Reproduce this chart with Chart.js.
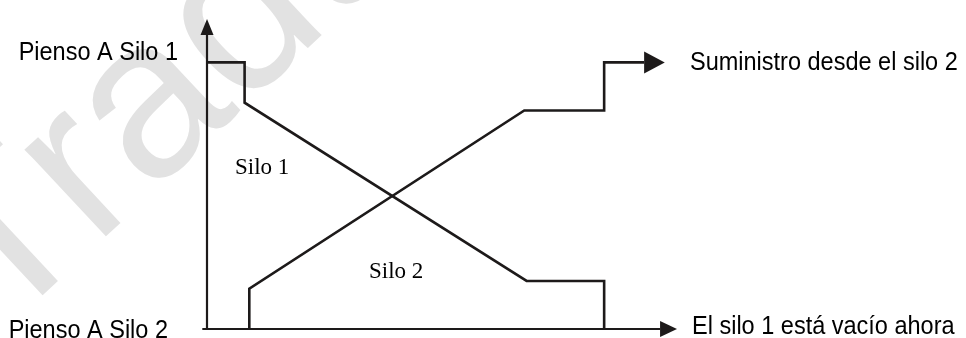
<!DOCTYPE html>
<html>
<head>
<meta charset="utf-8">
<script src="https://cdn.jsdelivr.net/npm/chart.js@4.4.1/dist/chart.umd.min.js"></script>
<style>
  html, body { margin: 0; padding: 0; background: #fff; }
</style>
</head>
<body>
<canvas id="grafico" width="966" height="338"></canvas>
<script>
// Valores (tiempo en x, nivel en y, escala 0-100)
const tiempoSilo1 = [0, 8, 8, 68, 84.5, 84.5];
const nivelSilo1 = [86, 86, 73, 15.5, 15.5, 0];

const tiempoSilo2 = [9, 9, 67.5, 84.5, 84.5, 93];
const nivelSilo2 = [0, 13, 70.5, 70.5, 86, 86];

// Ejes con flecha (la punta se dibuja aparte)
const ejeX = [-1, 96.4];
const ejeY = [0, 94.8];

// Textos
const textoSilo1 = 'Pienso A Silo 1';
const textoSilo2 = 'Pienso A Silo 2';
const textoSuministro = 'Suministro desde el silo 2';
const textoVacio = 'El silo 1 está vacío ahora';
const textoZona1 = 'Silo 1';
const textoZona2 = 'Silo 2';
const textoMarca = 'Traducido';

const colorLinea = '#1d1a1a';

const toPoints = (xs, ys) => xs.map((x, i) => ({ x: x, y: ys[i] }));

// Flechas: [x base, y base, x punta, y punta, medio ancho]
const flechas = [
  [0, 94.8, 0, 100, 6.5],
  [96.4, 0, 100, 0, 8],
  [93, 86, 97.4, 86, 11]
];

// texto algo estrechado, como en la figura original
const textoEstrecho = (ctx, txt, x, y, align) => {
  ctx.save();
  ctx.translate(x, y);
  ctx.scale(0.94, 1);
  ctx.textAlign = align;
  ctx.fillText(txt, 0, 0);
  ctx.restore();
};

const dibujoExtra = {
  id: 'dibujoExtra',
  beforeDatasetsDraw(chart) {
    const ctx = chart.ctx;
    // marca de agua
    ctx.save();
    ctx.translate(0, 335);
    ctx.rotate(-43 * Math.PI / 180);
    ctx.fillStyle = '#e2e2e2';
    ctx.font = '225px "Liberation Sans", Arial, sans-serif';
    ctx.textBaseline = 'alphabetic';
    ctx.fillText(textoMarca, 0, 0);
    ctx.restore();
  },
  afterDatasetsDraw(chart) {
    const ctx = chart.ctx;
    const sx = chart.scales.x;
    const sy = chart.scales.y;
    ctx.save();
    ctx.fillStyle = colorLinea;
    flechas.forEach(f => {
      const bx = sx.getPixelForValue(f[0]);
      const by = sy.getPixelForValue(f[1]);
      const tx = sx.getPixelForValue(f[2]);
      const ty = sy.getPixelForValue(f[3]);
      const ang = Math.atan2(ty - by, tx - bx);
      const w = f[4];
      ctx.beginPath();
      ctx.moveTo(tx, ty);
      ctx.lineTo(bx + Math.cos(ang + Math.PI / 2) * w, by + Math.sin(ang + Math.PI / 2) * w);
      ctx.lineTo(bx + Math.cos(ang - Math.PI / 2) * w, by + Math.sin(ang - Math.PI / 2) * w);
      ctx.closePath();
      ctx.fill();
    });

    const x0 = sx.getPixelForValue(0);
    ctx.fillStyle = '#000';
    ctx.textBaseline = 'alphabetic';
    ctx.font = '25px "Liberation Sans", Arial, sans-serif';
    textoEstrecho(ctx, textoSilo1, x0 - 29, 60, 'right');
    textoEstrecho(ctx, textoSilo2, x0 - 39, 338, 'right');
    textoEstrecho(ctx, textoSuministro, 690, 70, 'left');
    textoEstrecho(ctx, textoVacio, 692, 334, 'left');

    ctx.font = '23px "Liberation Serif", "Times New Roman", serif';
    ctx.textAlign = 'left';
    ctx.fillText(textoZona1, 235, 174);
    ctx.fillText(textoZona2, 369, 278);
    ctx.restore();
  }
};

const linea = (data, ancho) => ({
  data: data,
  showLine: true,
  borderColor: colorLinea,
  borderWidth: ancho,
  pointRadius: 0,
  tension: 0,
  fill: false,
  clip: false,
  borderJoinStyle: 'miter'
});

new Chart(document.querySelector('#grafico'), {
  type: 'scatter',
  data: {
    datasets: [
      linea(toPoints(ejeX, [0, 0]), 2.2),
      linea(toPoints([0, 0], ejeY), 2.2),
      linea(toPoints(tiempoSilo1, nivelSilo1), 2.6),
      linea(toPoints(tiempoSilo2, nivelSilo2), 2.6)
    ]
  },
  options: {
    responsive: false,
    animation: false,
    layout: { padding: { left: 207, right: 289, top: 19, bottom: 9 } },
    scales: {
      x: { type: 'linear', min: 0, max: 100, display: false },
      y: { type: 'linear', min: 0, max: 100, display: false }
    },
    plugins: {
      legend: { display: false },
      tooltip: { enabled: false }
    }
  },
  plugins: [dibujoExtra]
});
</script>
</body>
</html>
